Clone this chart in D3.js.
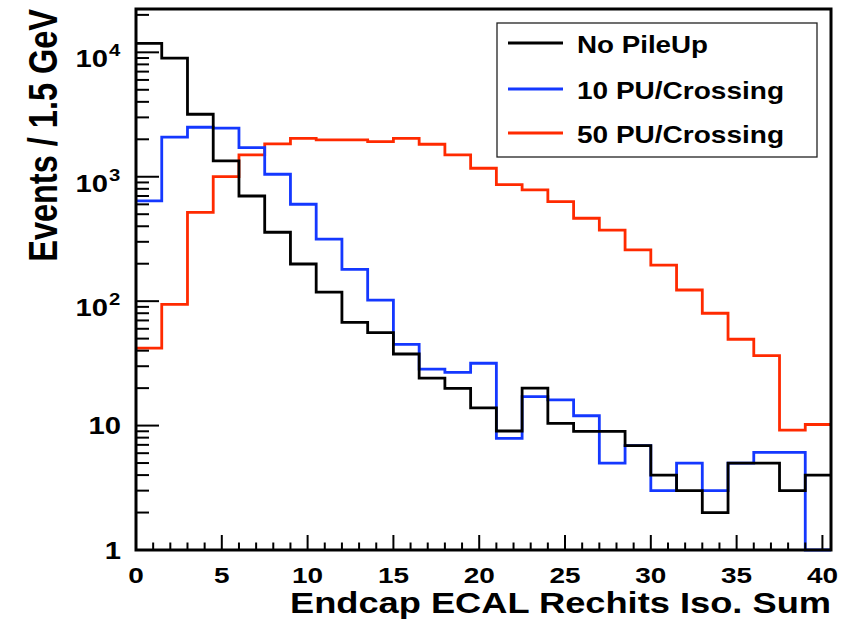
<!DOCTYPE html>
<html><head><meta charset="utf-8">
<script src="https://cdn.jsdelivr.net/npm/d3@7"></script>
<style>body{margin:0;background:#fff}svg{display:block}text{font-family:"Liberation Sans",Arial,sans-serif;font-weight:bold}</style>
</head><body><svg id="c" width="852" height="623"></svg>
<script>
const binWidth = 1.5;
const binStarts = d3.range(27).map(i => i * binWidth);
const noPileUp = [11800, 9000, 3180, 1340, 700, 358, 199, 118, 67.6, 55.8, 37.6, 24.1, 19.9, 13.9, 9.05, 20, 10.4, 9, 9, 6.9, 4, 3, 2, 5, 5, 3, 4];
const pu10 = [640, 2080, 2500, 2460, 1713, 1047, 601, 315, 180, 102, 45, 28.4, 26.8, 31.7, 7.9, 17.1, 16.1, 12, 5, 6.9, 3, 5, 3, 5, 6.1, 6.1, 1];
const pu50 = [42, 94.4, 518, 1002, 1497, 1836, 2036, 1980, 1980, 1914, 2036, 1825, 1497, 1170, 865, 783, 631, 464, 373, 258, 195, 123, 80, 49.4, 36.5, 9.2, 10.2];
const seriesNames = ["No PileUp", "10 PU/Crossing", "50 PU/Crossing"];
const seriesColors = ["#000000", "#1438ff", "#ff2a00"];
const xTicks = [0, 5, 10, 15, 20, 25, 30, 35, 40];
const yMajor = [1, 10, 100, 1000, 10000];
const yLabels = ["1", "10", "10^2", "10^3", "10^4"];
const xTitle = "Endcap ECAL Rechits Iso. Sum";
const yTitle = "Events / 1.5 GeV";

const svg = d3.select("#c");
const L = 136, R = 831, T = 9, B = 550;
const SX = 1.27; // horizontal stretch of the reference lettering
const x = d3.scaleLinear().domain([0, 40.5]).range([L, R]);
const y = d3.scaleLog().domain([1, 22300]).range([B, T]);

// histograms
const line = d3.line().x(d => x(d[0])).y(d => y(Math.max(1, d[1]))).curve(d3.curveStepAfter);
const allSeries = [pu50, pu10, noPileUp];
const allColors = [seriesColors[2], seriesColors[1], seriesColors[0]];
allSeries.forEach((vals, k) => {
  const pts = binStarts.map((s, i) => [s, vals[i]]);
  pts.push([40.5, vals[vals.length - 1]]);
  svg.append("path").attr("d", line(pts)).attr("fill", "none")
    .attr("stroke", allColors[k]).attr("stroke-width", 2.8);
});

// frame
svg.append("rect").attr("x", L).attr("y", T).attr("width", R - L).attr("height", B - T)
  .attr("fill", "none").attr("stroke", "#000").attr("stroke-width", 3);

// x ticks
const xMinor = d3.range(0, 41, 1);
svg.append("g").selectAll("line").data(xMinor).join("line")
  .attr("x1", d => x(d)).attr("x2", d => x(d)).attr("y1", B)
  .attr("y2", d => B - (d % 5 === 0 ? 15 : 7.5)).attr("stroke", "#000").attr("stroke-width", 2);
svg.append("g").selectAll("g").data(xTicks).join("g")
  .attr("transform", d => `translate(${x(d)},582.5) scale(${SX},1)`)
  .append("text").attr("text-anchor", "middle").attr("font-size", 22).text(d => d);

// y ticks
const yMinorVals = [];
for (let e = 0; e < 5; e++) for (let m = 1; m <= 9; m++) { const v = m * Math.pow(10, e); if (v <= 22300) yMinorVals.push(v); }
svg.append("g").selectAll("line").data(yMinorVals).join("line")
  .attr("x1", L).attr("x2", d => L + (yMajor.includes(d) ? 23 : 13))
  .attr("y1", d => y(d)).attr("y2", d => y(d)).attr("stroke", "#000").attr("stroke-width", 2);
yMajor.forEach((d, i) => {
  const lab = yLabels[i];
  if (lab.includes("^")) {
    const [b, p] = lab.split("^");
    svg.append("g").attr("transform", `translate(108,${y(d) + 15}) scale(${SX},1)`)
      .append("text").attr("text-anchor", "end").attr("font-size", 23).text(b);
    svg.append("g").attr("transform", `translate(109,${y(d) + 4}) scale(${SX},1)`)
      .append("text").attr("text-anchor", "start").attr("font-size", 16).text(p);
  } else {
    svg.append("g").attr("transform", `translate(121,${y(d) + 8.5}) scale(${SX},1)`)
      .append("text").attr("text-anchor", "end").attr("font-size", 23).text(lab);
  }
});

// axis titles
svg.append("text").attr("x", 290).attr("y", 613).attr("font-size", 29)
  .attr("textLength", 541).attr("lengthAdjust", "spacingAndGlyphs").text(xTitle);
svg.append("text").attr("transform", `translate(57,9) scale(${SX},1) rotate(-90)`)
  .attr("text-anchor", "end").attr("font-size", 32.5).text(yTitle);

// legend
const lg = svg.append("g");
lg.append("rect").attr("x", 497).attr("y", 23).attr("width", 320).attr("height", 134)
  .attr("fill", "#fff").attr("stroke", "#222").attr("stroke-width", 1.3);
const ly = [43, 89, 133];
const lw = [131, 207, 207];
seriesNames.forEach((n, i) => {
  lg.append("line").attr("x1", 508).attr("x2", 563).attr("y1", ly[i]).attr("y2", ly[i])
    .attr("stroke", seriesColors[i]).attr("stroke-width", 2.8);
  lg.append("text").attr("x", 577).attr("y", ly[i] + 9.5).attr("font-size", 24)
    .attr("textLength", lw[i]).attr("lengthAdjust", "spacingAndGlyphs").text(n);
});
</script></body></html>
